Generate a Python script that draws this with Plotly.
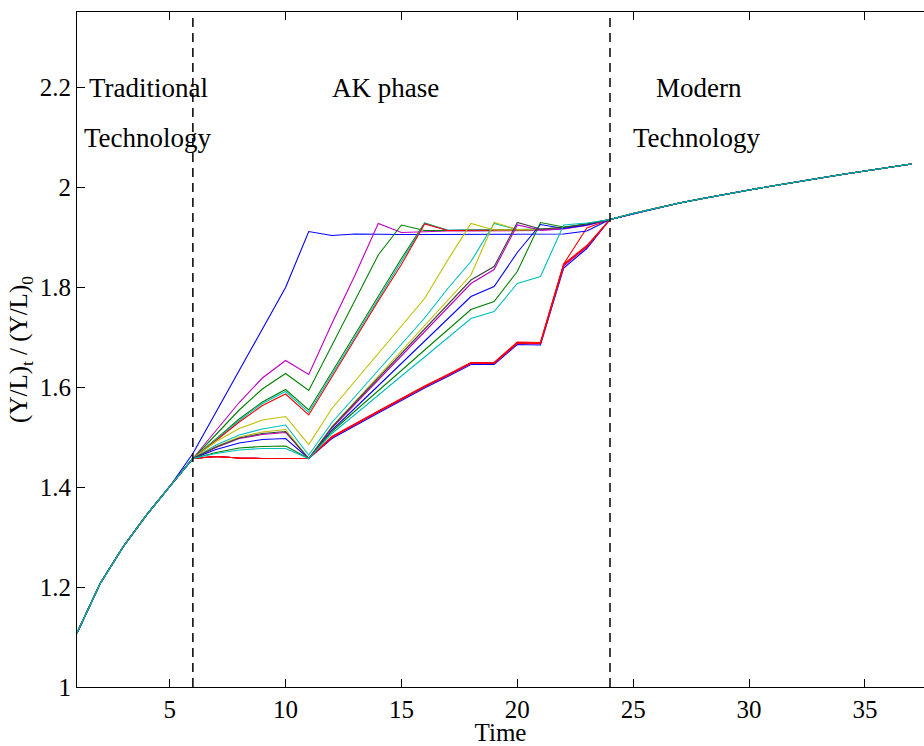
import plotly.graph_objects as go

# ---------------- data ----------------
time_trad = [1, 2, 3, 4, 5]
traditional = [1.108, 1.207, 1.281, 1.344, 1.401]

time_ak = list(range(6, 24))  # 6..23
ak_blue1 = [1.467, 1.550, 1.633, 1.716, 1.799, 1.911, 1.903, 1.906, 1.905, 1.905, 1.905, 1.905, 1.905, 1.905, 1.905, 1.905, 1.906, 1.912]
ak_mag2 = [1.457, 1.512, 1.569, 1.618, 1.653, 1.625, 1.727, 1.824, 1.927, 1.909, 1.911, 1.912, 1.912, 1.912, 1.913, 1.913, 1.916, 1.923]
ak_grn3 = [1.457, 1.505, 1.554, 1.596, 1.627, 1.593, 1.683, 1.774, 1.864, 1.924, 1.913, 1.913, 1.913, 1.914, 1.914, 1.915, 1.918, 1.925]
ak_grn4 = [1.457, 1.496, 1.536, 1.570, 1.595, 1.554, 1.630, 1.705, 1.781, 1.857, 1.928, 1.913, 1.914, 1.914, 1.914, 1.915, 1.918, 1.925]
ak_cyn5 = [1.457, 1.495, 1.533, 1.567, 1.591, 1.549, 1.625, 1.700, 1.776, 1.851, 1.927, 1.914, 1.914, 1.914, 1.915, 1.915, 1.918, 1.926]
ak_red6 = [1.457, 1.493, 1.530, 1.563, 1.586, 1.544, 1.620, 1.696, 1.772, 1.845, 1.926, 1.913, 1.913, 1.914, 1.914, 1.915, 1.918, 1.925]
ak_yel7 = [1.457, 1.491, 1.517, 1.534, 1.541, 1.485, 1.557, 1.612, 1.667, 1.722, 1.777, 1.854, 1.927, 1.914, 1.914, 1.915, 1.918, 1.925]
ak_cyn8 = [1.457, 1.484, 1.504, 1.516, 1.524, 1.464, 1.529, 1.581, 1.633, 1.685, 1.738, 1.797, 1.851, 1.927, 1.915, 1.916, 1.919, 1.926]
ak_yel9 = [1.457, 1.481, 1.500, 1.510, 1.515, 1.457, 1.521, 1.571, 1.622, 1.672, 1.723, 1.773, 1.824, 1.929, 1.915, 1.916, 1.919, 1.926]
ak_blk10 = [1.457, 1.480, 1.498, 1.507, 1.511, 1.457, 1.520, 1.569, 1.618, 1.667, 1.716, 1.765, 1.814, 1.841, 1.929, 1.916, 1.919, 1.926]
ak_mag11 = [1.457, 1.479, 1.497, 1.505, 1.509, 1.457, 1.518, 1.566, 1.614, 1.662, 1.711, 1.759, 1.807, 1.835, 1.924, 1.914, 1.917, 1.924]
ak_blu12 = [1.457, 1.475, 1.488, 1.495, 1.497, 1.457, 1.514, 1.558, 1.603, 1.647, 1.692, 1.736, 1.781, 1.801, 1.869, 1.925, 1.917, 1.924]
ak_grn13 = [1.457, 1.469, 1.478, 1.481, 1.482, 1.457, 1.511, 1.552, 1.592, 1.633, 1.674, 1.714, 1.755, 1.771, 1.831, 1.929, 1.920, 1.926]
ak_cyn14 = [1.457, 1.467, 1.474, 1.477, 1.477, 1.457, 1.507, 1.545, 1.584, 1.622, 1.660, 1.699, 1.737, 1.751, 1.807, 1.821, 1.924, 1.928]
ak_red15 = [1.457, 1.461, 1.458, 1.457, 1.457, 1.457, 1.500, 1.526, 1.551, 1.576, 1.601, 1.624, 1.648, 1.648, 1.689, 1.688, 1.846, 1.918]
ak_red16 = [1.457, 1.461, 1.458, 1.457, 1.457, 1.457, 1.501, 1.527, 1.552, 1.577, 1.602, 1.625, 1.649, 1.649, 1.690, 1.689, 1.846, 1.883]
ak_blu17 = [1.457, 1.461, 1.458, 1.457, 1.457, 1.457, 1.497, 1.523, 1.548, 1.573, 1.598, 1.621, 1.645, 1.645, 1.685, 1.684, 1.838, 1.877]
ak_mag18 = [1.457, 1.461, 1.458, 1.457, 1.457, 1.457, 1.499, 1.525, 1.550, 1.575, 1.600, 1.623, 1.647, 1.647, 1.687, 1.686, 1.842, 1.880]
ak_red19 = [1.457, 1.461, 1.458, 1.457, 1.457, 1.457, 1.500, 1.526, 1.551, 1.576, 1.601, 1.624, 1.648, 1.648, 1.688, 1.687, 1.844, 1.881]

time_modern = list(range(24, 38))  # 24..37
modern = [1.935, 1.947, 1.958, 1.968, 1.977, 1.986, 1.994, 2.002, 2.010, 2.018, 2.025, 2.032, 2.039, 2.046]

phase_bounds = [6, 24]
phase_labels = ["Traditional", "Technology", "AK phase", "Modern", "Technology"]
label_x = [4.09, 4.07, 14.32, 27.82, 27.74]
label_y = [2.198, 2.098, 2.198, 2.198, 2.098]

x_ticks = [5, 10, 15, 20, 25, 30, 35]
y_ticks = [1, 1.2, 1.4, 1.6, 1.8, 2, 2.2]

# MATLAB classic colour order
C = {"b": "#0000FF", "g": "#008000", "r": "#FF0000", "c": "#00BFBF",
     "m": "#BF00BF", "y": "#BFBF00", "k": "#404040"}

series = [
    (ak_blu17, "b"), (ak_mag18, "m"), (ak_red16, "r"), (ak_red19, "r"), (ak_red15, "r"),
    (ak_blue1, "b"), (ak_mag2, "m"), (ak_grn3, "g"), (ak_grn4, "g"), (ak_cyn5, "c"),
    (ak_red6, "r"), (ak_yel7, "y"), (ak_cyn8, "c"), (ak_yel9, "y"), (ak_mag11, "m"),
    (ak_blu12, "b"), (ak_grn13, "g"), (ak_blk10, "k"), (ak_cyn14, "c"),
]

fig = go.Figure()
t_all = time_trad + time_ak + time_modern
for ak, col in series:
    fig.add_trace(go.Scatter(
        x=t_all, y=traditional + ak + modern, mode="lines",
        line=dict(color=C[col], width=1.1), showlegend=False, hoverinfo="skip"))

for xb in phase_bounds:
    fig.add_shape(type="line", xref="x", yref="paper", x0=xb, x1=xb, y0=0, y1=1,
                  line=dict(color="black", width=1.5, dash="9px,6px"), layer="above")

font_family = "Liberation Serif, Times New Roman, serif"
for txt, lx, ly in zip(phase_labels, label_x, label_y):
    fig.add_annotation(x=lx, y=ly, xref="x", yref="y", text=txt, showarrow=False,
                       font=dict(family=font_family, size=27, color="black"),
                       xanchor="center", yanchor="middle")

fig.update_layout(
    width=924, height=746,
    margin=dict(l=77, r=0, t=12, b=59),
    paper_bgcolor="white", plot_bgcolor="white",
    font=dict(family=font_family, size=25, color="black"),
    showlegend=False,
)
fig.update_xaxes(
    range=[1, 37.55], tickvals=x_ticks, ticks="inside", ticklen=8, tickwidth=1,
    tickcolor="black", showline=True, linecolor="black", linewidth=1.2,
    mirror="ticks", showgrid=False, zeroline=False,
    title=dict(text="Time", standoff=0, font=dict(size=25)),
    tickfont=dict(size=25),
)
fig.update_yaxes(
    range=[1, 2.35], tickvals=y_ticks, ticks="inside", ticklen=8, tickwidth=1,
    tickcolor="black", showline=True, linecolor="black", linewidth=1.2,
    mirror=False, showgrid=False, zeroline=False,
    title=dict(text="(Y/L)<sub>t</sub> / (Y/L)<sub>0</sub>", standoff=4, font=dict(size=25)),
    tickfont=dict(size=25),
)

fig.write_html("out.html")
